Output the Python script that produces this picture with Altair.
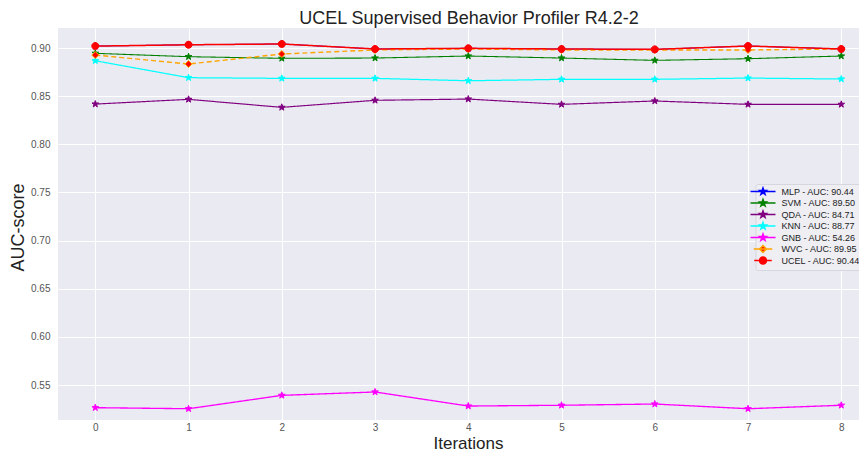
import altair as alt
import pandas as pd

title_text = "UCEL Supervised Behavior Profiler R4.2-2"
iterations = [0, 1, 2, 3, 4, 5, 6, 7, 8]
labels = ["MLP - AUC: 90.44", "SVM - AUC: 89.50", "QDA - AUC: 84.71",
          "KNN - AUC: 88.77", "GNB - AUC: 54.26", "WVC - AUC: 89.95",
          "UCEL - AUC: 90.44"]

mlp = [0.902, 0.9034, 0.9042, 0.899, 0.8997, 0.899, 0.8986, 0.9021, 0.899]
svm = [0.8945, 0.891, 0.8893, 0.8896, 0.8917, 0.8896, 0.8872, 0.8889, 0.8917]
qda = [0.8418, 0.8467, 0.8384, 0.8457, 0.847, 0.8415, 0.845, 0.8415, 0.8415]
knn = [0.8868, 0.8692, 0.8685, 0.8685, 0.866, 0.8675, 0.8675, 0.8688, 0.8678]
gnb = [0.5265, 0.5254, 0.5393, 0.5428, 0.5282, 0.529, 0.5303, 0.5254, 0.529]
wvc = [0.8927, 0.8834, 0.8938, 0.898, 0.899, 0.898, 0.898, 0.898, 0.899]
ucel = [0.902, 0.9034, 0.9042, 0.899, 0.8997, 0.899, 0.8986, 0.9021, 0.899]
series = [mlp, svm, qda, knn, gnb, wvc, ucel]

y_ticks = [0.55, 0.60, 0.65, 0.70, 0.75, 0.80, 0.85, 0.90]

line_colors = ["#0000FF", "#008000", "#800080", "#00FFFF", "#FF00FF", "#FFA500", "#FF0000"]
fill_colors = ["#0000FF", "#008000", "#800080", "#00FFFF", "#FF00FF", "#FF0000", "#FF0000"]
line_widths = [1, 1.5, 1.5, 1.5, 1.5, 1.5, 1.7]
dashes = [[1, 0], [1, 0], [1, 0], [1, 0], [1, 0], [5, 3], [1, 0]]

STAR = ("M0,-1L0.235,-0.324L0.951,-0.309L0.380,0.124L0.588,0.809L0,0.4"
        "L-0.588,0.809L-0.380,0.124L-0.951,-0.309L-0.235,-0.324Z")
DIAMOND = "M0,-1L1,0L0,1L-1,0Z"
CIRCLE = "M1,0A1,1,0,1,1,-1,0A1,1,0,1,1,1,0Z"
shapes = [STAR, STAR, STAR, STAR, STAR, DIAMOND, CIRCLE]
sizes = [49, 49, 49, 49, 49, 121, 169]
legend_sizes = [49, 49, 49, 49, 49, 90, 100]

def with_line(path, half):
    return f"M{-half},0H{half}" + path

legend_shapes = [with_line(STAR, 3.57)] * 5 + [with_line(DIAMOND, 2.64), with_line(CIRCLE, 2.5)]

rows = []
for lab, vals in zip(labels, series):
    for it, v in zip(iterations, vals):
        rows.append({"label": lab, "iteration": it, "auc": v})
df = pd.DataFrame(rows)

font = "Liberation Sans"

x_enc = alt.X("iteration:Q",
              scale=alt.Scale(domain=[-0.4, 8.19], nice=False, zero=False),
              axis=alt.Axis(values=iterations, format="d", title="Iterations",
                            labelFontSize=10, labelColor="#555555", labelPadding=2,
                            titleFontSize=17, titleFont=font, titleFontWeight="normal",
                            titleColor="#222222", titleX=410, titleY=28,
                            titleBaseline="alphabetic", titleAlign="center"))
y_enc = alt.Y("auc:Q",
              scale=alt.Scale(domain=[0.5137, 0.9208], nice=False, zero=False),
              axis=alt.Axis(values=y_ticks, format=".2f", title="AUC-score",
                            labelFontSize=10, labelColor="#555555", labelPadding=8,
                            titleFontSize=18, titleFont=font, titleFontWeight="normal",
                            titleColor="#222222", titleX=-40, titleY=199,
                            titleAngle=270, titleAlign="center", titleBaseline="middle"))

base = alt.Chart(df)

lines = base.mark_line().encode(
    x=x_enc, y=y_enc,
    color=alt.Color("label:N", scale=alt.Scale(domain=labels, range=line_colors), legend=None),
    strokeDash=alt.StrokeDash("label:N", scale=alt.Scale(domain=labels, range=dashes), legend=None),
    strokeWidth=alt.StrokeWidth("label:N", scale=alt.Scale(domain=labels, range=line_widths), legend=None),
)

points = base.mark_point(opacity=1, strokeWidth=1, filled=False).encode(
    x=x_enc, y=y_enc,
    shape=alt.Shape("label:N", scale=alt.Scale(domain=labels, range=shapes), legend=None),
    size=alt.Size("label:N", scale=alt.Scale(domain=labels, range=sizes), legend=None),
    stroke=alt.Stroke("label:N", scale=alt.Scale(domain=labels, range=line_colors), legend=None),
    fill=alt.Fill("label:N", scale=alt.Scale(domain=labels, range=fill_colors), legend=None),
)

leg = alt.Legend(title=None, orient="none", legendX=697.5, legendY=156,
                 labelFontSize=9, labelFont=font, labelColor="#222222",
                 labelOffset=14, rowPadding=-1.5, padding=3,
                 fillColor="#EEEEF3", strokeColor="#D6D6DE", cornerRadius=2,
                 symbolStrokeWidth=1.5)

legend_layer = base.transform_filter("datum.iteration < 0").mark_point(
    opacity=1, strokeWidth=1.5, filled=False).encode(
    x=x_enc, y=y_enc,
    shape=alt.Shape("label:N", scale=alt.Scale(domain=labels, range=legend_shapes), legend=leg),
    size=alt.Size("label:N", scale=alt.Scale(domain=labels, range=legend_sizes), legend=leg),
    stroke=alt.Stroke("label:N", scale=alt.Scale(domain=labels, range=line_colors), legend=leg),
    fill=alt.Fill("label:N", scale=alt.Scale(domain=labels, range=fill_colors), legend=leg),
)

title_layer = alt.Chart(pd.DataFrame({"title": [title_text]})).mark_text(
    font=font, fontSize=18, color="#222222", align="center", baseline="alphabetic"
).encode(text="title:N", x=alt.value(411), y=alt.value(-4))

chart = alt.layer(lines, points, legend_layer, title_layer).resolve_scale(
    shape="independent", size="independent", stroke="independent", fill="independent"
).properties(
    width=801, height=392,
    padding={"left": 50, "top": 20, "right": 0, "bottom": 31},
    autosize=alt.AutoSizeParams(type="none"),
    background="white",
).configure_view(
    fill="#EAEAF2", stroke=None
).configure_axis(
    domain=False, ticks=False, grid=True, gridColor="white", gridWidth=1,
    labelFont=font
)

chart.save("out.html", embed_options={"renderer": "svg", "actions": False})
